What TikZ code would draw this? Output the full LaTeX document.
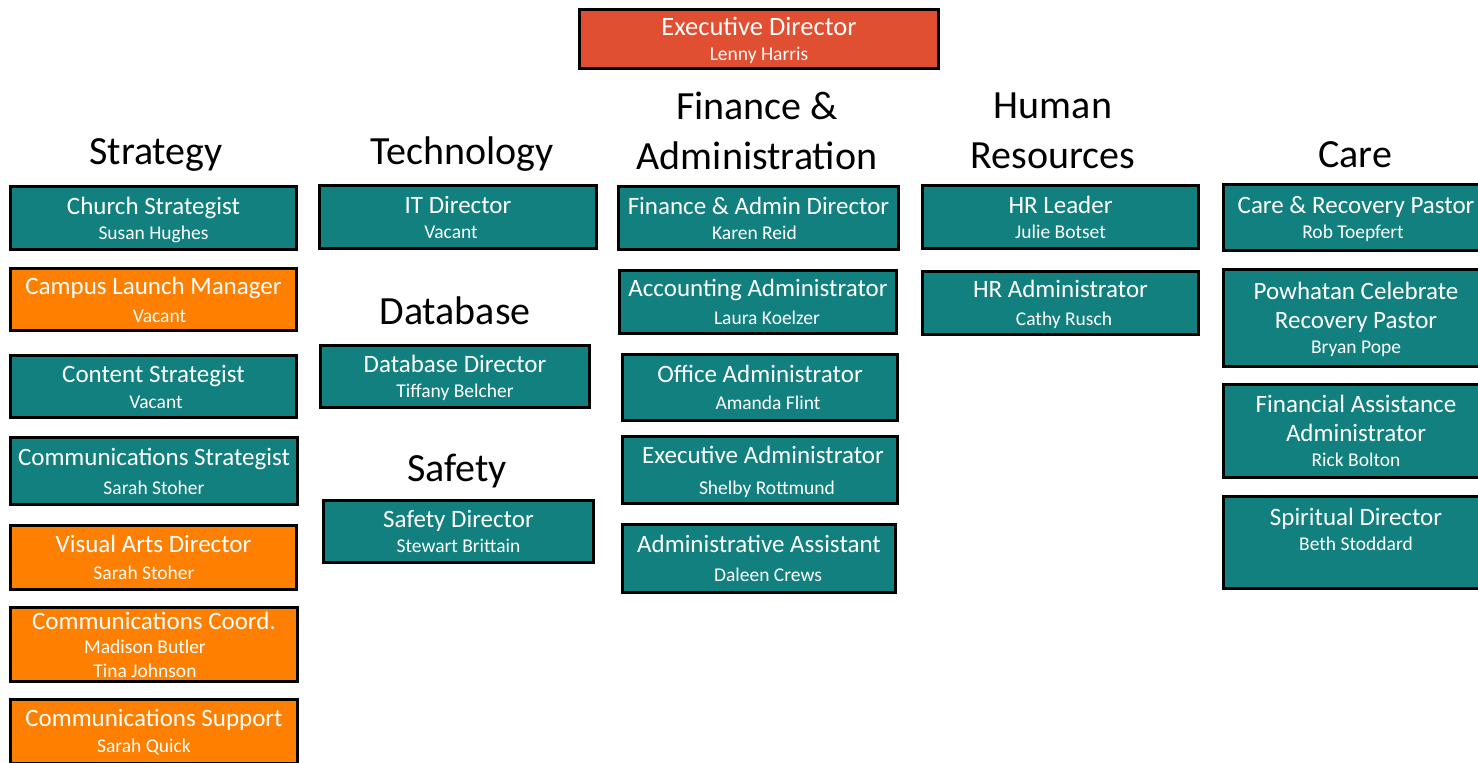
\documentclass[tikz,border=0pt]{standalone}
\usepackage{fontspec}
\setmainfont{Carlito}
\begin{document}
\begin{tikzpicture}[x=1pt,y=-1pt]
\definecolor{tealbg}{RGB}{18,128,126}
\definecolor{orangebg}{RGB}{255,128,0}
\definecolor{redbg}{RGB}{225,79,50}

\tikzset{role/.style={rectangle,draw=black,line width=3pt,text=white,
    align=center,inner sep=0pt,font=\fontsize{25}{25}\selectfont,text depth=-3.5pt},
  tealrole/.style={role,fill=tealbg},
  orangerole/.style={role,fill=orangebg},
  dept/.style={anchor=base,align=center,font=\fontsize{40}{50}\selectfont}}
\newcommand{\pname}[1]{{\fontsize{19.5}{25}\selectfont #1}}

\useasboundingbox[fill=white] (0,0) rectangle (1478,763);
\clip (0,0) rectangle (1478,763);

\node[role,fill=redbg,minimum width=359,minimum height=59,font=\fontsize{26.5}{25}\selectfont,text depth=-8pt] (exec) at (759,39) {Executive Director\\\pname{Lenny Harris}};

\node[dept] (hstrat) at (156,164) {Strategy};
\node[dept] (htech) at (462,164) {Technology};
\node[dept] (hdb) at (455,324) {Database};
\node[dept] (hsafe) at (457,481) {Safety};
\node[dept] (hfin) at (757,169) {Finance \&\\Administration};
\node[dept] (hhr) at (1053,168) {Human\\Resources};
\node[dept] (hcare) at (1355,167) {Care};

\node[tealrole,minimum width=286,minimum height=63,text depth=-5pt] (cs) at (153.5,218) {Church Strategist\\\pname{Susan Hughes}};
\node[orangerole,minimum width=286,minimum height=62] (clm) at (153.5,299.5) {Campus Launch Manager\\[3pt]\pname{\hspace*{12pt}Vacant}};
\node[tealrole,minimum width=286,minimum height=62] (cont) at (153.5,386.5) {Content Strategist\\[1pt]\pname{\hspace*{5pt}Vacant}};
\node[tealrole,minimum width=287,minimum height=67] (comms) at (154,471) {Communications Strategist\\[4pt]\pname{Sarah Stoher}};
\node[orangerole,minimum width=286,minimum height=64] (vad) at (153.5,557.5) {Visual Arts Director\\[2pt]\pname{Sarah Stoher\hspace*{19pt}}};
\node[orangerole,minimum width=287,minimum height=74,text depth=-9pt] (cc) at (154,644.5) {Communications Coord.\\[-1pt]\pname{\hspace*{-18pt}Madison Butler}\\[-1pt]\pname{\hspace*{-18pt}Tina Johnson}};
\node[orangerole,minimum width=287,minimum height=64,text depth=-1pt] (sup) at (154,731) {Communications Support\\[1pt]\pname{Sarah Quick\hspace*{20pt}}};

\node[tealrole,minimum width=277,minimum height=63] (it) at (458,217) {IT Director\\\pname{Vacant\hspace*{14pt}}};
\node[tealrole,minimum width=269,minimum height=62] (db) at (455,376.5) {Database Director\\\pname{Tiffany Belcher}};
\node[tealrole,minimum width=270,minimum height=62] (sf) at (458.5,531.5) {Safety Director\\\pname{Stewart Brittain}};

\node[tealrole,minimum width=280,minimum height=63] (fad) at (758.5,218) {Finance \& Admin Director\\\pname{Karen Reid\hspace*{8pt}}};
\node[tealrole,minimum width=277,minimum height=63] (acc) at (758,302) {Accounting Administrator\\[3pt]\pname{\hspace*{18pt}Laura Koelzer}};
\node[tealrole,minimum width=275,minimum height=66] (off) at (760,387.5) {Office Administrator\\[2pt]\pname{\hspace*{16pt}Amanda Flint}};
\node[tealrole,minimum width=275,minimum height=67] (exa) at (760,470) {\hspace*{6pt}Executive Administrator\\[6pt]\pname{\hspace*{14pt}Shelby Rottmund}};
\node[tealrole,minimum width=273,minimum height=68] (ast) at (759,558.5) {Administrative Assistant\\[4pt]\pname{\hspace*{18pt}Daleen Crews}};

\node[tealrole,minimum width=276,minimum height=63] (hrl) at (1060.5,217) {HR Leader\\\pname{Julie Botset}};
\node[tealrole,minimum width=276,minimum height=63] (hra) at (1060.5,303) {HR Administrator\\[3pt]\pname{\hspace*{7pt}Cathy Rusch}};

\node[tealrole,minimum width=265,minimum height=66] (cr) at (1356,217.5) {Care \& Recovery Pastor\\\pname{Rob Toepfert\hspace*{6pt}}};
\node[tealrole,minimum width=265,minimum height=97,text depth=-1pt] (pw) at (1356,318) {Powhatan Celebrate\\[4pt]Recovery Pastor\\\pname{Bryan Pope}};
\node[tealrole,minimum width=265,minimum height=93] (fa) at (1356,431) {Financial Assistance\\[4pt]Administrator\\\pname{Rick Bolton}};
\node[tealrole,minimum width=265,minimum height=92] (sd) at (1356,542.5) {Spiritual Director\\\pname{Beth Stoddard}\\[1pt]\strut};

\end{tikzpicture}
\end{document}
